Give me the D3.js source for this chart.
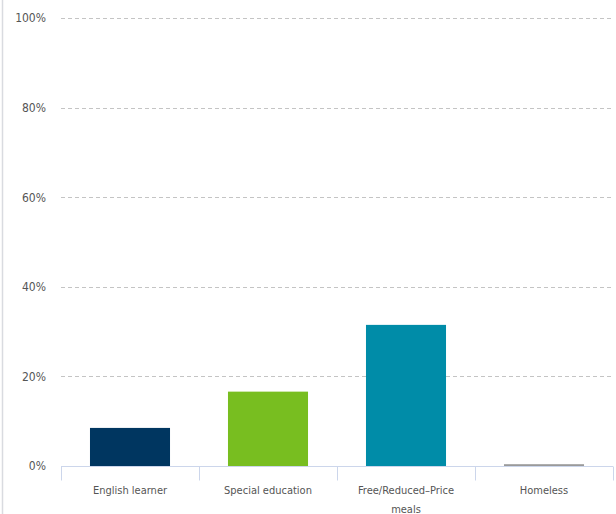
<!DOCTYPE html>
<html>
<head>
<meta charset="utf-8">
<script src="https://cdn.jsdelivr.net/npm/d3@7"></script>
<style>
  html, body { margin: 0; padding: 0; background: #fff; }
  svg { display: block; font-family: "DejaVu Sans Condensed", "DejaVu Sans", sans-serif; }
</style>
</head>
<body>
<svg id="chart" width="616" height="514"></svg>
<script>
// Share of students in each group
const categories = ["English learner", "Special education", "Free/Reduced-Price meals", "Homeless"];
const values = [8.5, 16.6, 31.5, 0.4];
const barColors = ["#003660", "#78be20", "#008ca8", "#9a9a9a"];
const yTicks = [0, 20, 40, 60, 80, 100];

const svg = d3.select("#chart");
const margin = { left: 61, right: 3, top: 18, bottom: 48 };
const width = 616, height = 514;

const x = d3.scaleBand()
  .domain(categories)
  .range([margin.left, width - margin.right])
  .paddingInner(0.42)
  .paddingOuter(0.21);

const y = d3.scaleLinear()
  .domain([0, 100])
  .range([height - margin.bottom, margin.top]);

// left frame line
svg.append("line")
  .attr("x1", 2.5).attr("x2", 2.5)
  .attr("y1", 0).attr("y2", height)
  .attr("stroke", "#d9dbe0").attr("stroke-width", 1.5);

// dashed gridlines
svg.append("g").selectAll("line")
  .data(yTicks.filter(d => d > 0))
  .join("line")
  .attr("x1", margin.left).attr("x2", width - margin.right)
  .attr("y1", d => Math.round(y(d)) + 0.5).attr("y2", d => Math.round(y(d)) + 0.5)
  .attr("stroke", "#c4c4c4")
  .attr("stroke-dasharray", "4,3");

// y axis labels
const yAxis = d3.axisLeft(y)
  .tickValues(yTicks)
  .tickFormat(d => d + "%")
  .tickSize(0)
  .tickPadding(0);
const gy = svg.append("g")
  .attr("transform", `translate(${margin.left - 15},0)`)
  .call(yAxis);
gy.select(".domain").remove();
gy.selectAll("text")
  .attr("fill", "#555")
  .attr("font-size", 12)
  .attr("font-family", "DejaVu Sans Condensed, DejaVu Sans, sans-serif");

// bars
svg.append("g").selectAll("rect")
  .data(categories)
  .join("rect")
  .attr("x", d => x(d))
  .attr("width", x.bandwidth())
  .attr("y", (d, i) => y(values[i]))
  .attr("height", (d, i) => y(0) - y(values[i]))
  .attr("fill", (d, i) => barColors[i]);

// x axis baseline and category dividers
const step = x.step();
const base = Math.round(y(0)) + 0.5;
svg.append("line")
  .attr("x1", margin.left).attr("x2", width - margin.right)
  .attr("y1", base).attr("y2", base)
  .attr("stroke", "#ccd6eb");
const dividers = categories.map(c => x(c) - x.paddingInner() * step / 2).concat([width - margin.right]);
svg.append("g").selectAll("line")
  .data(dividers)
  .join("line")
  .attr("x1", d => Math.round(d) + 0.5).attr("x2", d => Math.round(d) + 0.5)
  .attr("y1", base).attr("y2", base + 14)
  .attr("stroke", "#ccd6eb");

// category labels (wrapped)
const wrapped = {
  "Free/Reduced-Price meals": ["Free/Reduced–Price", "meals"]
};
const lab = svg.append("g").selectAll("text")
  .data(categories)
  .join("text")
  .attr("x", d => x(d) + x.bandwidth() / 2)
  .attr("y", base + 27)
  .attr("text-anchor", "middle")
  .attr("fill", "#555")
  .attr("font-size", 11);
lab.each(function (d) {
  const lines = wrapped[d] || [d];
  d3.select(this).selectAll("tspan")
    .data(lines)
    .join("tspan")
    .attr("x", x(d) + x.bandwidth() / 2)
    .attr("dy", (l, i) => i === 0 ? 0 : 19)
    .text(l => l);
});
</script>
</body>
</html>
